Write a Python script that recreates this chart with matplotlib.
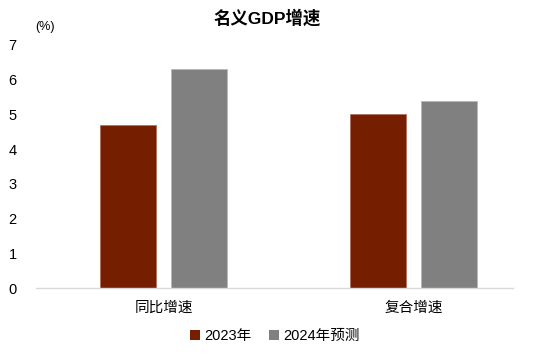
import numpy as np
import matplotlib
matplotlib.use("Agg")
from matplotlib import pyplot as plt
from matplotlib.patches import Patch

plt.rcParams['font.family'] = ['Liberation Sans', 'Noto Sans CJK SC', 'DejaVu Sans']

# data
categories = ['同比增速', '复合增速']
series_names = ['2023年', '2024年预测']
values_2023 = [4.7, 5.0]
values_2024 = [6.3, 5.4]
colors = ['#761f00', '#808080']

fig = plt.figure(figsize=(5.5, 3.56), dpi=100)
ax = fig.add_axes([36/550, 68/356, 477/550, 243/356])

x = np.arange(len(categories))
w = 0.224
off = 0.142
ax.bar(x - off, values_2023, w, color=colors[0], edgecolor='#b07060', linewidth=0.6)
ax.bar(x + off, values_2024, w, color=colors[1], edgecolor='#b8b8b8', linewidth=0.6)

ax.set_xlim(-0.51, 1.398)
ax.set_ylim(0, 7)
ax.set_yticks(range(0, 8))
ax.set_xticks(x)
ax.set_xticklabels(categories, fontsize=10.5)
ax.tick_params(axis='both', length=0, labelsize=10.5, colors='#000000')
ax.tick_params(axis='y', pad=14)
ax.tick_params(axis='x', pad=9)
for s in ['top', 'right', 'left']:
    ax.spines[s].set_visible(False)
ax.spines['bottom'].set_color('#d9d9d9')
ax.spines['bottom'].set_linewidth(1)

fig.text(0.485, 1 - 18/356, '名义GDP增速', ha='center', va='center', fontsize=12.5, fontweight='bold')
fig.text(45/550, 1 - 27/356, '(%)', ha='center', va='center', fontsize=9)

handles = [Patch(facecolor=c, edgecolor='none') for c in colors]
fig.legend(handles, series_names, loc='center', bbox_to_anchor=(0.5, 1 - 336/356),
           ncol=2, frameon=False, fontsize=10.5, handlelength=0.7, handleheight=0.7,
           handletextpad=0.3, columnspacing=1.2)

plt.savefig('out.png', dpi=100)
